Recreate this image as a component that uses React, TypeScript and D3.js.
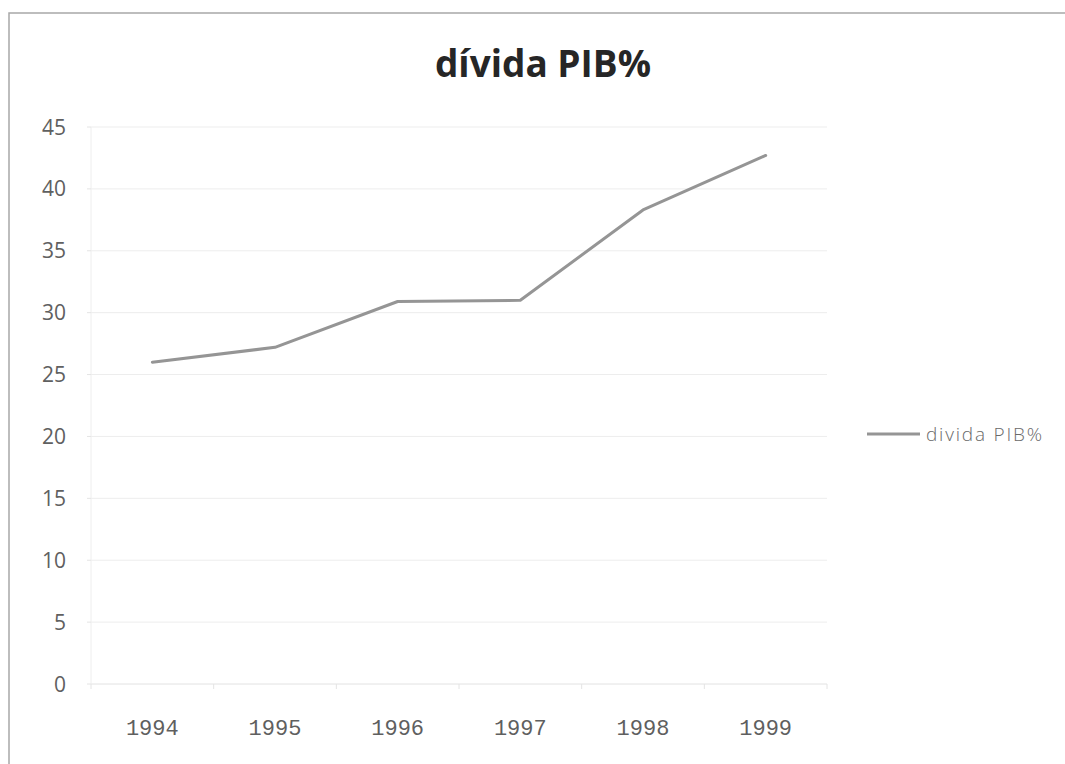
import React from "react";
import * as d3 from "d3";

// Debt-to-GDP ratio, 1994–1999
const years: string[] = ["1994", "1995", "1996", "1997", "1998", "1999"];
const debtPct: number[] = [26.0, 27.2, 30.9, 31.0, 38.3, 42.7];
const yTicks: number[] = [0, 5, 10, 15, 20, 25, 30, 35, 40, 45];
const seriesName = "divida PIB%";
const chartTitle = "dívida PIB%";

const W = 1065;
const H = 764;
const plot = { left: 91, right: 827, top: 127, bottom: 684 };

export default function App() {
  const x = d3
    .scaleBand<string>()
    .domain(years)
    .range([plot.left, plot.right])
    .padding(0);
  const y = d3
    .scaleLinear()
    .domain([0, 45])
    .range([plot.bottom, plot.top]);

  const cx = (d: string) => (x(d) ?? 0) + x.bandwidth() / 2;

  const line = d3
    .line<number>()
    .x((_, i) => cx(years[i]))
    .y((v) => y(v));

  const boundaries = years.map((d) => x(d) ?? 0).concat([plot.right]);

  return (
    <svg
      width={W}
      height={H}
      viewBox={`0 0 ${W} ${H}`}
      style={{ position: "absolute", left: 0, top: 0, display: "block", background: "#fff" }}
    >
      {/* chart frame */}
      <path d={`M9,${H + 2} L9,13 L${W + 2},13`} fill="none" stroke="#a8a8a8" strokeWidth={1.5} />

      <text
        x={543}
        y={77}
        textAnchor="middle"
        fontFamily="'Open Sans', sans-serif"
        fontWeight={700}
        fontSize={37}
        fill="#262626"
      >
        {chartTitle}
      </text>

      {/* horizontal gridlines */}
      {yTicks.map((t) => (
        <line
          key={`g${t}`}
          x1={plot.left}
          x2={plot.right}
          y1={y(t)}
          y2={y(t)}
          stroke={t === 0 ? "#e2e2e2" : "#ededed"}
          strokeWidth={1}
        />
      ))}

      {/* value axis */}
      <line x1={plot.left} x2={plot.left} y1={plot.top} y2={plot.bottom} stroke="#eeeeee" />
      {yTicks.map((t) => (
        <line key={`yt${t}`} x1={plot.left - 4} x2={plot.left} y1={y(t)} y2={y(t)} stroke="#e4e4e4" />
      ))}
      {yTicks.map((t) => (
        <text
          key={`yl${t}`}
          x={66}
          y={y(t)}
          dy="0.36em"
          textAnchor="end"
          fontFamily="'Open Sans', sans-serif"
          fontSize={21}
          fill="#606060"
        >
          {t}
        </text>
      ))}

      {/* category axis ticks and labels */}
      {boundaries.map((b, i) => (
        <line key={`xt${i}`} x1={b} x2={b} y1={plot.bottom} y2={plot.bottom + 5} stroke="#e4e4e4" />
      ))}
      {years.map((d) => (
        <text
          key={`xl${d}`}
          x={cx(d)}
          y={735}
          textAnchor="middle"
          fontFamily="'Liberation Mono', 'DejaVu Sans Mono', monospace"
          fontSize={22}
          fill="#5f5f5f"
        >
          {d}
        </text>
      ))}

      {/* series line */}
      <path
        d={line(debtPct) ?? ""}
        fill="none"
        stroke="#959595"
        strokeWidth={3}
        strokeLinejoin="round"
        strokeLinecap="round"
      />

      {/* legend */}
      <line x1={867} x2={920} y1={434} y2={434} stroke="#959595" strokeWidth={3} />
      <text
        x={926}
        y={434}
        dy="0.36em"
        fontFamily="'Open Sans', sans-serif"
        fontWeight={300}
        fontSize={19}
        letterSpacing={1.8}
        fill="#6a6a6a"
      >
        {seriesName}
      </text>
    </svg>
  );
}
